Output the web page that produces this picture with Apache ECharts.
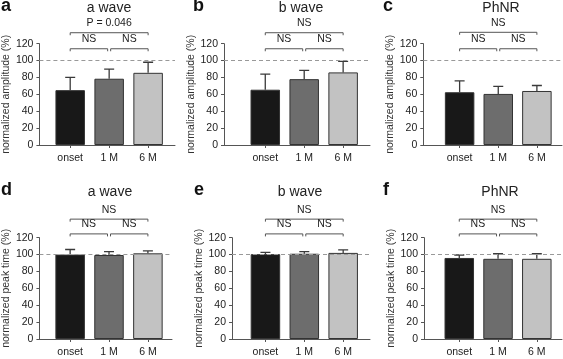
<!DOCTYPE html>
<html>
<head>
<meta charset="utf-8">
<script src="https://cdn.jsdelivr.net/npm/echarts@6/dist/echarts.min.js"></script>
<style>
  html, body { margin: 0; padding: 0; background: #fff; }
  #container { width: 563px; height: 359px; }
</style>
</head>
<body>
<div id="container"></div>
<script>
  // categories and values
  const categories = ['onset', '1 M', '6 M'];
  const panelLetters = ['a', 'b', 'c', 'd', 'e', 'f'];
  const panelTitles = ['a wave', 'b wave', 'PhNR', 'a wave', 'b wave', 'PhNR'];
  const yNames = ['normalized amplitude (%)', 'normalized amplitude (%)', 'normalized amplitude (%)',
    'normalized peak time (%)', 'normalized peak time (%)', 'normalized peak time (%)'];

  // means (%)
  const meanA = [65, 78.5, 85.5];
  const meanB = [65.5, 78, 86];
  const meanC = [62.5, 60.5, 64];
  const meanD = [100, 99.5, 101.5];
  const meanE = [100.5, 101, 102];
  const meanF = [96, 95, 95];
  // upper error (SD)
  const sdA = [15, 11.5, 12.5];
  const sdB = [18.5, 10.5, 13];
  const sdC = [13.5, 9, 6.5];
  const sdD = [6, 4, 3];
  const sdE = [2, 2.5, 3.5];
  const sdF = [3.5, 6, 6];

  // significance labels: [onset-1M, 1M-6M, onset-6M]
  const sigA = ['NS', 'NS', 'P = 0.046'];
  const sigB = ['NS', 'NS', 'NS'];
  const sigC = ['NS', 'NS', 'NS'];
  const sigD = ['NS', 'NS', 'NS'];
  const sigE = ['NS', 'NS', 'NS'];
  const sigF = ['NS', 'NS', 'NS'];

  const yTicks = [0, 20, 40, 60, 80, 100, 120];
  const refLine = 100;

  const means = [meanA, meanB, meanC, meanD, meanE, meanF];
  const sds = [sdA, sdB, sdC, sdD, sdE, sdF];
  const sigs = [sigA, sigB, sigC, sigD, sigE, sigF];

  const barColors = ['#181818', '#6d6d6d', '#c2c2c2'];
  const font = 'Liberation Sans, Arial, sans-serif';

  // layout per panel (pixels), x axis extent in category units
  const layout = [
    { left: 39, right: 175, top: 43.7, bottom: 145, xmin: -0.79, xmax: 2.69, gap: 25, br: [114, 133], tx: 109, ty: 1, lx: 1, ly: -3 },
    { left: 224, right: 370, top: 43.7, bottom: 145, xmin: -1.06, xmax: 2.69, gap: 17, br: [114, 133], tx: 301, ty: 1, lx: 193, ly: -3 },
    { left: 423.3, right: 562, top: 43.7, bottom: 145, xmin: -0.94, xmax: 2.65, gap: 22, br: [114, 133.5], tx: 501, ty: 1, lx: 383, ly: -3 },
    { left: 37.3, right: 172, top: 237.7, bottom: 339, xmin: -0.79, xmax: 2.62, gap: 25, br: [124.5, 142], tx: 110, ty: 185, lx: 1, ly: 181 },
    { left: 232, right: 370, top: 237.7, bottom: 339, xmin: -0.86, xmax: 2.69, gap: 21, br: [124.5, 142], tx: 300, ty: 185, lx: 194, ly: 181 },
    { left: 424, right: 562, top: 237.7, bottom: 339, xmin: -0.91, xmax: 2.65, gap: 22, br: [124.5, 142], tx: 500, ty: 185, lx: 383, ly: 181 }
  ];

  let myChart = echarts.init(document.getElementById('container'), null, { renderer: 'canvas' });

  let grids = [], xAxes = [], yAxes = [], series = [], titles = [];

  layout.forEach(function (L, p) {
    grids.push({ left: L.left, width: L.right - L.left, top: L.top, height: L.bottom - L.top });

    titles.push({
      text: panelLetters[p], left: L.lx, top: L.ly, padding: 0,
      textStyle: { fontFamily: font, fontSize: 18, fontWeight: 'bold', color: '#111' }
    });
    titles.push({
      text: panelTitles[p], left: L.tx, top: L.ty, padding: 0, textAlign: 'center',
      textStyle: { fontFamily: font, fontSize: 14, fontWeight: 'normal', color: '#222' }
    });

    xAxes.push({
      type: 'value', gridIndex: p, min: L.xmin, max: L.xmax,
      axisLine: { show: true, onZero: false, lineStyle: { color: '#555', width: 1 } },
      axisTick: { show: true, length: 3, customValues: [0, 1, 2], lineStyle: { color: '#555' } },
      axisLabel: {
        customValues: [0, 1, 2], margin: 8, fontFamily: font, fontSize: 10.5, color: '#222',
        formatter: function (v) { return categories[Math.round(v)]; }
      },
      splitLine: { show: false }
    });

    yAxes.push({
      type: 'value', gridIndex: p, min: yTicks[0], max: yTicks[yTicks.length - 1], interval: 20,
      name: yNames[p], nameLocation: 'middle', nameGap: L.gap, nameRotate: 90,
      nameTextStyle: { fontFamily: font, fontSize: 10.5, color: '#333' },
      axisLine: { show: true, onZero: false, lineStyle: { color: '#555', width: 1 } },
      axisTick: { show: true, length: 3, lineStyle: { color: '#555' } },
      axisLabel: { margin: 6, fontFamily: font, fontSize: 10.5, color: '#222' },
      splitLine: { show: false }
    });

    // bars
    series.push({
      type: 'bar', xAxisIndex: p, yAxisIndex: p, barWidth: 29.5,
      data: means[p].map(function (m, i) {
        return { value: [i, m], itemStyle: { color: barColors[i] } };
      }),
      itemStyle: { borderColor: '#333', borderWidth: 1 },
      markLine: {
        silent: true, symbol: 'none', label: { show: false },
        lineStyle: { color: '#999', type: [4, 3], width: 1 },
        data: [{ yAxis: refLine }]
      },
      z: 2
    });

    // error bars (upper only)
    series.push({
      type: 'custom', xAxisIndex: p, yAxisIndex: p, z: 3,
      data: means[p].map(function (m, i) { return [i, m, m + sds[p][i]]; }),
      encode: { x: 0, y: [1, 2] },
      renderItem: function (params, api) {
        let lo = api.coord([api.value(0), api.value(1)]);
        let hi = api.coord([api.value(0), api.value(2)]);
        return {
          type: 'polyline',
          shape: { points: [[lo[0], lo[1]], [hi[0], hi[1]], [hi[0] - 5, hi[1]], [hi[0] + 5, hi[1]]] },
          style: { stroke: '#3a3a3a', fill: null, lineWidth: 1.3 }
        };
      }
    });

    // significance brackets
    let lowY = L.br[0], upY = L.br[1];
    series.push({
      type: 'custom', xAxisIndex: p, yAxisIndex: p, z: 3, clip: false, silent: true,
      data: [[0, 1, lowY, -1.5], [1, 2, lowY, 1.5], [0, 2, upY, 0]],
      encode: { x: [0, 1], y: 2 },
      renderItem: function (params, api) {
        let a = api.coord([api.value(0), api.value(2)]);
        let b = api.coord([api.value(1), api.value(2)]);
        let inset = api.value(3);
        let x1 = a[0] + (inset > 0 ? inset : 0);
        let x2 = b[0] + (inset < 0 ? inset : 0);
        let y = a[1];
        return {
          type: 'polyline',
          shape: { points: [[x1, y + 2.5], [x1, y], [x2, y], [x2, y + 2.5]] },
          style: { stroke: '#555', fill: null, lineWidth: 1 },
          textContent: {
            style: {
              text: sigs[p][params.dataIndex],
              fontFamily: font, fontSize: 10.5, fill: '#222'
            }
          },
          textConfig: { position: 'top', distance: 1.5 }
        };
      }
    });
  });

  let option = {
    animation: false,
    backgroundColor: '#fff',
    title: titles,
    grid: grids,
    xAxis: xAxes,
    yAxis: yAxes,
    series: series
  };
  myChart.setOption(option, true);
</script>
</body>
</html>
